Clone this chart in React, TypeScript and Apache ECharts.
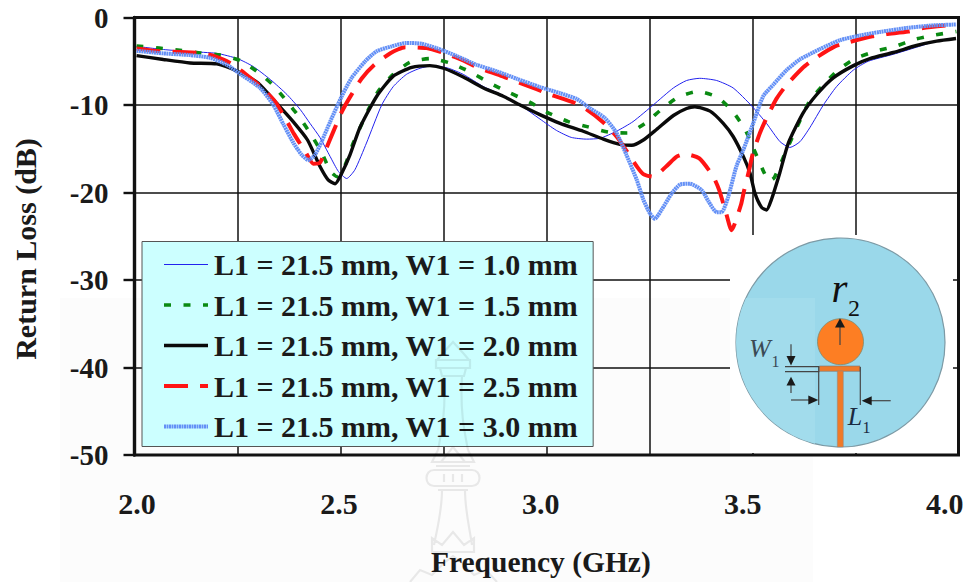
import React, { useEffect, useRef } from "react";
import * as echarts from "echarts";

const names = [
  "L1 = 21.5 mm, W1 = 1.0 mm",
  "L1 = 21.5 mm, W1 = 1.5 mm",
  "L1 = 21.5 mm, W1 = 2.0 mm",
  "L1 = 21.5 mm, W1 = 2.5 mm",
  "L1 = 21.5 mm, W1 = 3.0 mm",
];
const xLabels = [2, 2.5, 3, 3.5, 4];

const w10 = [[2.005,-3.3],[2.07,-3.66],[2.135,-3.9],[2.2,-4.1],[2.25,-4.7],[2.288,-5.6],[2.33,-7.1],[2.37,-8.8],[2.402,-10.5],[2.426,-12.1],[2.45,-13.7],[2.475,-15.9],[2.495,-17.6],[2.515,-18.4],[2.535,-17.4],[2.563,-14.35],[2.6,-10],[2.628,-7.9],[2.66,-6.5],[2.693,-5.8],[2.725,-5.5],[2.762,-5.8],[2.798,-6.5],[2.847,-7.9],[2.895,-8.9],[2.936,-10],[2.984,-11.6],[3.024,-12.9],[3.06,-13.7],[3.097,-13.9],[3.13,-13.8],[3.17,-13],[3.21,-11.9],[3.259,-10],[3.308,-8.05],[3.34,-7.2],[3.372,-6.95],[3.413,-7.2],[3.453,-8.05],[3.498,-10.1],[3.534,-12.1],[3.567,-14.2],[3.591,-14.85],[3.615,-14.2],[3.639,-12.6],[3.672,-10],[3.704,-7.9],[3.745,-6],[3.781,-5],[3.842,-4.2],[3.898,-3.4],[3.947,-2.7],[3.994,-2.4]];

const w15 = [[2.005,-3.25],[2.06,-3.5],[2.11,-3.75],[2.16,-4.05],[2.208,-4.3],[2.256,-4.9],[2.297,-6.15],[2.337,-7.75],[2.37,-9.6],[2.402,-11.5],[2.43,-13.5],[2.454,-15.4],[2.476,-17.6],[2.492,-18.2],[2.51,-17],[2.531,-14.35],[2.568,-10.5],[2.592,-8.4],[2.628,-6.5],[2.669,-5.1],[2.717,-4.7],[2.766,-5.2],[2.814,-6.2],[2.863,-7.5],[2.908,-8.55],[2.96,-9.7],[3.004,-10.9],[3.053,-11.9],[3.101,-12.5],[3.15,-13.1],[3.196,-13.2],[3.239,-12.1],[3.279,-10.5],[3.32,-9.1],[3.367,-8.45],[3.415,-9.1],[3.453,-10.8],[3.482,-12.8],[3.502,-14.9],[3.524,-17.3],[3.541,-18.7],[3.553,-18.3],[3.583,-15.1],[3.638,-9.6],[3.672,-7.7],[3.708,-6],[3.749,-4.7],[3.799,-3.85],[3.846,-3.3],[3.894,-2.5],[3.943,-2],[3.995,-1.6]];

const w20 = [[2.005,-4.35],[2.07,-4.8],[2.135,-5.2],[2.2,-5.3],[2.25,-6.15],[2.3,-7.5],[2.345,-9.8],[2.385,-11.9],[2.42,-14],[2.45,-17],[2.47,-18.55],[2.487,-19],[2.503,-17.8],[2.523,-15.7],[2.547,-12.6],[2.588,-9],[2.628,-6.7],[2.673,-5.7],[2.717,-5.5],[2.75,-5.8],[2.798,-6.8],[2.847,-8.05],[2.895,-9],[2.936,-10],[2.984,-11.1],[3.033,-12.1],[3.089,-13],[3.138,-13.9],[3.178,-14.5],[3.207,-14.6],[3.235,-14],[3.267,-12.8],[3.308,-11.2],[3.34,-10.4],[3.36,-10.2],[3.397,-10.7],[3.429,-12.1],[3.453,-13.6],[3.478,-15.9],[3.494,-17.8],[3.506,-20.1],[3.522,-21.7],[3.534,-22],[3.546,-20.8],[3.566,-17.8],[3.587,-14.35],[3.623,-10.9],[3.656,-8.8],[3.696,-6.9],[3.745,-5.5],[3.785,-4.7],[3.842,-4],[3.898,-3.2],[3.947,-2.7],[3.994,-2.4]];

const w25 = [[2.005,-3.55],[2.046,-3.8],[2.11,-3.95],[2.16,-4.05],[2.192,-4.4],[2.232,-5.2],[2.268,-6.4],[2.305,-7.85],[2.341,-9.6],[2.367,-11.6],[2.387,-13.3],[2.414,-15.3],[2.434,-16.7],[2.45,-16.6],[2.466,-14.9],[2.482,-13.1],[2.504,-10.7],[2.523,-9.1],[2.551,-7],[2.581,-5.45],[2.622,-4.05],[2.657,-3.4],[2.709,-3.5],[2.75,-4.05],[2.798,-4.9],[2.835,-5.75],[2.887,-6.6],[2.92,-7.2],[2.976,-8.2],[3.008,-8.8],[3.065,-9.7],[3.097,-10.5],[3.138,-12],[3.17,-13.6],[3.198,-15.5],[3.219,-17],[3.235,-17.9],[3.259,-18.2],[3.291,-17],[3.316,-15.9],[3.336,-15.6],[3.371,-16.1],[3.405,-18.2],[3.419,-19.7],[3.435,-22.2],[3.449,-24.3],[3.472,-21.4],[3.479,-19.9],[3.492,-17.4],[3.5,-15.7],[3.518,-13.2],[3.534,-11.5],[3.558,-9.3],[3.581,-7.8],[3.621,-5.8],[3.651,-4.7],[3.7,-3.3],[3.736,-2.8],[3.791,-2.15],[3.825,-1.9],[3.878,-1.6],[3.914,-1.2],[3.994,-0.8]];

const w30 = [[2.005,-3.8],[2.07,-4.1],[2.135,-4.3],[2.183,-4.6],[2.224,-5.4],[2.264,-6.7],[2.305,-8.05],[2.337,-10],[2.362,-12.25],[2.386,-14.35],[2.406,-15.7],[2.422,-16.3],[2.438,-15.7],[2.454,-14.2],[2.475,-11.9],[2.503,-9],[2.527,-6.9],[2.56,-5],[2.588,-3.85],[2.624,-3.3],[2.66,-2.9],[2.697,-3],[2.733,-3.5],[2.782,-4.4],[2.83,-5.4],[2.879,-6.15],[2.928,-7],[2.984,-7.95],[3.033,-8.65],[3.073,-9.3],[3.105,-10.35],[3.142,-11.5],[3.17,-13.2],[3.194,-15.7],[3.219,-18.55],[3.235,-20.8],[3.251,-22.4],[3.263,-23],[3.279,-22],[3.304,-20.1],[3.324,-19.1],[3.348,-19],[3.376,-19.7],[3.393,-21],[3.413,-22.25],[3.425,-22.25],[3.441,-20.5],[3.461,-17],[3.478,-15.1],[3.502,-12.05],[3.526,-9],[3.55,-7.7],[3.583,-6],[3.615,-4.8],[3.664,-3.6],[3.712,-2.6],[3.761,-2.05],[3.809,-1.65],[3.874,-1.2],[3.939,-0.9],[3.995,-0.8]];

const SERIF = "'Liberation Serif', 'Times New Roman', serif";

const WATERMARK =
  "M453 342 L442 354 L437 360 L469 360 L464 354 Z M436 360 L470 360 L470 368 L436 368 Z M440 368 L466 368 L464 376 L442 376 Z " +
  "M444 376 C446 410 442 430 438 450 M462 376 C460 410 464 430 468 450 " +
  "M438 450 L432 462 L474 462 L468 450 M453 447 L441 462 M453 447 L465 462 M436 466 L470 466 " +
  "M434 470 L472 470 C482 470 482 486 472 486 L434 486 C424 486 424 470 434 470 Z " +
  "M444 474 L444 482 M453 474 L453 482 M462 474 L462 482 M438 490 L468 490 " +
  "M442 490 C442 510 438 525 434 545 M465 490 C465 510 469 525 472 545 " +
  "M432 552 L432 538 L442 545 L453 532 L464 545 L474 538 L474 552 Z " +
  "M410 582 L420 570 L432 575 L445 562 L453 556 L461 562 L474 575 L486 570 L497 582";

const PALE = "M746 298 L815 298 L815 443.8 A104.5 104.5 0 0 1 746 298 Z";

echarts.graphic.registerShape("watermarkShape", echarts.graphic.extendPath(WATERMARK as any, {}));
echarts.graphic.registerShape("paleShape", echarts.graphic.extendPath(PALE as any, {}));

const ink = { stroke: "#444", lineWidth: 1.2 };
const seg = (x1: number, y1: number, x2: number, y2: number, style: any = ink) => ({
  type: "line",
  z: 20,
  shape: { x1, y1, x2, y2 },
  style,
});
const head = (pts: number[][]) => ({
  type: "polygon",
  z: 21,
  shape: { points: pts },
  style: { fill: "#1a1a1a" },
});
const label = (text: string, x: number, y: number, size: number, italic: boolean, fill: string) => ({
  type: "text",
  z: 22,
  x,
  y: y + size * 0.1,
  style: {
    text,
    fill,
    font: `${italic ? "italic " : ""}${size}px ${SERIF}`,
    textAlign: "left",
    textVerticalAlign: "bottom",
    verticalAlign: "bottom",
  },
});

function buildOption() {
  const styles: any[] = [
    { color: "#2222ee", width: 1 },
    { color: "#0a8a12", width: 3.6, type: [7, 12.5] },
    { color: "#0a0a0a", width: 3.4 },
    { color: "#ff1414", width: 4, type: [24, 12] },
    { color: "#6490f6", width: 4, type: [2, 0.5] },
  ];
  const data = [w10, w15, w20, w25, w30];
  return {
    animation: false,
    backgroundColor: "#ffffff",
    grid: [
      { left: 134.5, top: 17.5, width: 824, height: 437.5, show: true, borderColor: "#111", borderWidth: 3, z: 1, outerBoundsMode: "none" },
      { left: 137, top: 43, width: 807.7, bottom: 127, show: false, outerBoundsMode: "none" },
    ],
    xAxis: [
      {
        type: "value",
        gridIndex: 0,
        min: 2,
        max: 4,
        interval: 0.25,
        axisLine: { show: false },
        axisTick: { show: false },
        axisLabel: { show: false },
        splitLine: { show: true, lineStyle: { color: "#111", width: 1.5 } },
      },
      {
        type: "value",
        gridIndex: 1,
        min: 2,
        max: 4,
        interval: 0.5,
        name: "Frequency (GHz)",
        nameLocation: "middle",
        nameGap: 92,
        nameTextStyle: { color: "#1a1a1a", fontFamily: SERIF, fontWeight: "bold", fontSize: 29.5 },
        axisLine: { show: false },
        axisTick: { show: false },
        splitLine: { show: false },
        axisLabel: {
          margin: 33,
          color: "#1a1a1a",
          fontFamily: SERIF,
          fontWeight: "bold",
          fontSize: 30,
          formatter: (v: number) => (xLabels.includes(v) ? v.toFixed(1) : ""),
        },
      },
    ],
    yAxis: [
      {
        type: "value",
        gridIndex: 0,
        min: -50,
        max: 0,
        interval: 10,
        axisLine: { show: true, lineStyle: { color: "#111", width: 3.4 } },
        axisTick: { show: true, length: 11, lineStyle: { color: "#111", width: 2.4 } },
        axisLabel: {
          margin: 26,
          color: "#1a1a1a",
          fontFamily: SERIF,
          fontWeight: "bold",
          fontSize: 29,
        },
        splitLine: { show: true, lineStyle: { color: "#111", width: 1.5 } },
      },
      {
        type: "value",
        gridIndex: 1,
        min: -50,
        max: 0,
        name: "Return Loss (dB)",
        nameLocation: "middle",
        nameGap: 97,
        nameTextStyle: { color: "#1a1a1a", fontFamily: SERIF, fontWeight: "bold", fontSize: 30 },
        axisLine: { show: false },
        axisTick: { show: false },
        axisLabel: { show: false },
        splitLine: { show: false },
      },
    ],
    legend: {
      show: true,
      orient: "vertical",
      left: 142,
      top: 241.5,
      data: names.map((name, i) => ({
        name,
        itemStyle: { opacity: 0, borderWidth: 0 },
        lineStyle: { width: styles[i].width, color: styles[i].color, type: styles[i].type || "solid" },
      })),
      itemWidth: 44,
      itemHeight: 30,
      itemGap: 10.5,
      padding: [8, 15, 5, 20],
      backgroundColor: "#ccffff",
      borderColor: "#555",
      borderWidth: 1,
      selectedMode: false,
      textStyle: {
        color: "#1a1a1a",
        fontFamily: SERIF,
        fontWeight: "bold",
        fontSize: 30,
        lineHeight: 30,
        padding: [0, 0, 0, 1],
      },
    },
    series: names.map((name, i) => ({
      name,
      type: "line",
      xAxisIndex: 0,
      yAxisIndex: 0,
      data: data[i],
      symbol: "none",
      smooth: 0.2,
      silent: true,
      lineStyle: styles[i],
      z: 3 + i,
    })),
    graphic: [
      { type: "rect", z: -1, silent: true, shape: { x: 60, y: 298, width: 753, height: 284 }, style: { fill: "#fcfcfc" } },
      { type: "rect", z: 10, silent: true, shape: { x: 730, y: 235, width: 223, height: 218 }, style: { fill: "#ffffff" } },
      { type: "circle", z: 11, silent: true, shape: { cx: 840.5, cy: 342.5, r: 104.5 }, style: { fill: "#9ad8ea", stroke: "#7d9aa5", lineWidth: 1.2 } },
      { type: "paleShape", z: 12, silent: true, x: 0, y: 0, style: { fill: "#a2dcec" } },
      { type: "circle", z: 13, silent: true, shape: { cx: 840.5, cy: 341.7, r: 23 }, style: { fill: "#fd7e23", stroke: "#7f8a70", lineWidth: 0.8 } },
      { type: "rect", z: 13, silent: true, shape: { x: 819.3, y: 366, width: 40.7, height: 5.3 }, style: { fill: "#f07a28", stroke: "#777", lineWidth: 0.6 } },
      { type: "rect", z: 13, silent: true, shape: { x: 837.3, y: 371, width: 6, height: 76 }, style: { fill: "#f07a28", stroke: "#888", lineWidth: 0.5 } },
      seg(840, 345, 840, 325),
      head([[840, 318.3], [835, 327.5], [845, 327.5]]),
      seg(785, 366.7, 819.3, 366.7),
      seg(785, 371.7, 819.3, 371.7),
      seg(791, 344.3, 791, 358),
      head([[791, 365.5], [786.5, 356], [795.5, 356]]),
      seg(791, 384, 791, 393),
      head([[791, 376.7], [786.5, 385.5], [795.5, 385.5]]),
      seg(818.7, 367, 818.7, 405),
      seg(860.3, 367, 860.3, 405),
      seg(791, 400, 810, 400),
      head([[818.3, 400], [808.3, 395.5], [808.3, 404.5]]),
      seg(871, 400.7, 890.7, 400.7),
      head([[861.7, 400.7], [871.7, 396.2], [871.7, 405.2]]),
      label("r", 831.5, 304.3, 41, true, "#101010"),
      label("2", 848, 318, 24, false, "#101010"),
      label("W", 749, 359.3, 26, true, "#3a4a55"),
      label("1", 771.5, 368, 16, false, "#3a4a55"),
      label("L", 847.7, 426.7, 26, true, "#1a2a40"),
      label("1", 862.5, 434, 16, false, "#1a2a40"),
      {
        type: "watermarkShape",
        z: 30,
        silent: true,
        x: 0,
        y: 0,
        style: { fill: "none", stroke: "rgba(0,0,0,0.08)", lineWidth: 2.2 },
      },
    ],
  };
}

export default function App() {
  const ref = useRef<HTMLDivElement | null>(null);
  useEffect(() => {
    document.body.style.margin = "0";
    const chart = echarts.init(ref.current as HTMLDivElement, undefined, { renderer: "svg" });
    chart.setOption(buildOption() as any);
    return () => chart.dispose();
  }, []);
  return <div ref={ref} style={{ width: 966, height: 582 }} />;
}
